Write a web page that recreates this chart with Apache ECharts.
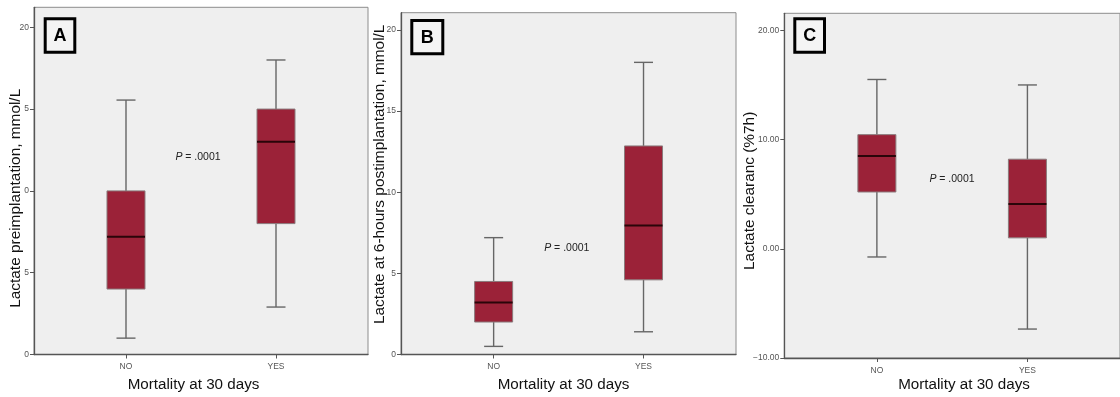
<!DOCTYPE html>
<html>
<head>
<meta charset="utf-8">
<script src="https://cdn.jsdelivr.net/npm/echarts@6/dist/echarts.min.js"></script>
<style>
html,body{margin:0;padding:0;background:#fff;}
#chart{width:1120px;height:397px;}
</style>
</head>
<body>
<div id="chart"></div>
<script>
// ---- data ----
const categories = ['NO', 'YES'];
// [min, Q1, median, Q3, max]
const boxA = [[1.0, 4.0, 7.2, 10.0, 15.55], [2.9, 8.0, 13.0, 15.0, 18.0]];
const boxB = [[0.5, 2.0, 3.2, 4.5, 7.2], [1.4, 4.6, 7.95, 12.85, 18.0]];
const boxC = [[-0.75, 5.2, 8.5, 10.45, 15.5], [-7.35, 1.0, 4.1, 8.2, 15.0]];
const yTicksA = [0, 5, 10, 15, 20];
const yTickLabelsA = ['0', '5', '0', '5', '20'];
const yTicksB = [0, 5, 10, 15, 20];
const yTickLabelsB = ['0', '5', '10', '15', '20'];
const yTicksC = [-10, 0, 10, 20];
const yTickLabelsC = ['\u221210.00', '0.00', '10.00', '20.00'];
const xTitle = 'Mortality at 30 days';
const yTitleA = 'Lactate preimplantation, mmol/L';
const yTitleB = 'Lactate at 6-hours postimplantation, mmol/L';
const yTitleC = 'Lactate clearanc (%7h)';
const pText = '.0001';
const panelLetters = ['A', 'B', 'C'];

// ---- styling ----
const FONT = '"Liberation Sans", Arial, sans-serif';
const NARROW = '"Liberation Sans Narrow", "Liberation Sans", Arial, sans-serif';
const BOX_FILL = '#9b2238';

function toRows(box) {
  return box.map((b, i) => [i].concat(b));
}

function mkX(gi, min, max, gap, pad) {
  return {
    type: 'value', gridIndex: gi, min: min, max: max,
    splitLine: { show: false },
    axisLine: { show: true, onZero: false, lineStyle: { color: '#555', width: 1.3 } },
    axisTick: { show: true, length: 4, customValues: [0, 1], lineStyle: { color: '#555' } },
    axisLabel: {
      customValues: [0, 1], margin: 8, fontSize: 8.5, color: '#555', fontFamily: NARROW,
      formatter: v => (Math.abs(v - Math.round(v)) < 1e-6 && categories[Math.round(v)]) || ''
    },
    name: xTitle, nameLocation: 'middle', nameGap: gap, nameMoveOverlap: false,
    nameTextStyle: { fontSize: 15.2, color: '#111', fontFamily: FONT, padding: pad }
  };
}

function mkY(gi, min, max, ticks, labels, title, gap, pad) {
  return {
    type: 'value', gridIndex: gi, min: min, max: max,
    splitLine: { show: false },
    axisLine: { show: true, onZero: false, lineStyle: { color: '#555', width: 1.3 } },
    axisTick: { show: true, length: 4, customValues: ticks, lineStyle: { color: '#555' } },
    axisLabel: {
      customValues: ticks, margin: 5, fontSize: 8.5, color: '#555', fontFamily: NARROW,
      formatter: v => {
        const i = ticks.findIndex(t => Math.abs(t - v) < 1e-6);
        return i >= 0 ? labels[i] : '';
      }
    },
    name: title, nameLocation: 'middle', nameGap: gap, nameMoveOverlap: false,
    nameTextStyle: { fontSize: 15.4, color: '#111', fontFamily: FONT, padding: pad }
  };
}

function renderBox(params, api) {
  const x = api.value(0);
  const mn = api.value(1), q1 = api.value(2), md = api.value(3), q3 = api.value(4), mx = api.value(5);
  const pMax = api.coord([x, mx]);
  const pQ3 = api.coord([x, q3]);
  const pMd = api.coord([x, md]);
  const pQ1 = api.coord([x, q1]);
  const pMin = api.coord([x, mn]);
  const cx = pMd[0];
  const hw = 19, cw = 9.5;
  const wStyle = { stroke: '#666', lineWidth: 1.4 };
  return {
    type: 'group',
    children: [
      { type: 'line', shape: { x1: cx, y1: pMax[1], x2: cx, y2: pQ3[1] }, style: wStyle },
      { type: 'line', shape: { x1: cx, y1: pQ1[1], x2: cx, y2: pMin[1] }, style: wStyle },
      { type: 'line', shape: { x1: cx - cw, y1: pMax[1], x2: cx + cw, y2: pMax[1] }, style: wStyle },
      { type: 'line', shape: { x1: cx - cw, y1: pMin[1], x2: cx + cw, y2: pMin[1] }, style: wStyle },
      { type: 'rect', shape: { x: cx - hw, y: pQ3[1], width: 2 * hw, height: pQ1[1] - pQ3[1] },
        style: { fill: BOX_FILL, stroke: '#8a7a7c', lineWidth: 1 } },
      { type: 'line', shape: { x1: cx - hw, y1: pMd[1], x2: cx + hw, y2: pMd[1] },
        style: { stroke: '#2a0509', lineWidth: 2 } }
    ]
  };
}

function mkSeries(gi, box) {
  return {
    type: 'custom', xAxisIndex: gi, yAxisIndex: gi,
    renderItem: renderBox,
    encode: { x: 0, y: [1, 2, 3, 4, 5] },
    data: toRows(box),
    silent: true
  };
}

function letterBox(x, y, w, h, letter) {
  return [
    { type: 'rect', shape: { x: x, y: y, width: w, height: h },
      style: { fill: '#f4f4f4', stroke: '#000', lineWidth: 3 }, z: 10 },
    { type: 'text', x: x + w / 2, y: y + h / 2 + 1,
      style: { text: letter, font: 'bold 18px ' + FONT, fill: '#000', align: 'center', verticalAlign: 'middle' }, z: 11 }
  ];
}

function pLabel(cx, cy) {
  return {
    type: 'text', x: cx, y: cy, z: 11,
    style: {
      text: '{i|P} = ' + pText,
      align: 'center', verticalAlign: 'middle',
      font: '10.5px ' + FONT, fill: '#222',
      rich: { i: { fontStyle: 'italic', fontSize: 10.5, fontFamily: FONT, fill: '#222' } }
    }
  };
}

const gridStyle = { show: true, backgroundColor: '#efefef', borderColor: '#8c8c8c', borderWidth: 1 };

const option = {
  backgroundColor: '#ffffff',
  animation: false,
  grid: [
    Object.assign({ left: 34, top: 7.3, width: 334, height: 348 }, gridStyle),
    Object.assign({ left: 401, top: 12.7, width: 335, height: 342.6 }, gridStyle),
    Object.assign({ left: 784.3, top: 13.3, width: 342.7, height: 345 }, gridStyle)
  ],
  xAxis: [
    mkX(0, -0.6133, 1.6133, 22.5, [0, 15, 0, 0]),
    mkX(1, -0.618, 1.617, 22.5, [0, 10, 0, 0]),
    mkX(2, -0.615, 1.615, 19, [0, 0, 0, 23.7])
  ],
  yAxis: [
    mkY(0, 0, 21.22, yTicksA, yTickLabelsA, yTitleA, 11, [0, 34.8, 0, 0]),
    mkY(1, 0, 21.06, yTicksB, yTickLabelsB, yTitleB, 14, [0, 0, 0, 18.6]),
    mkY(2, -10, 21.56, yTicksC, yTickLabelsC, yTitleC, 27, [0, 10.4, 0, 0])
  ],
  series: [mkSeries(0, boxA), mkSeries(1, boxB), mkSeries(2, boxC)],
  graphic: []
    .concat(letterBox(45.2, 18.8, 29.6, 33.4, panelLetters[0]))
    .concat(letterBox(411.8, 20.5, 31, 33.3, panelLetters[1]))
    .concat(letterBox(794.8, 18.8, 29.7, 33.4, panelLetters[2]))
    .concat([pLabel(198, 156.7), pLabel(566.8, 248.3), pLabel(952, 179)])
};

const chart = echarts.init(document.getElementById('chart'), null, { renderer: 'canvas' });
chart.setOption(option);
</script>
</body>
</html>
